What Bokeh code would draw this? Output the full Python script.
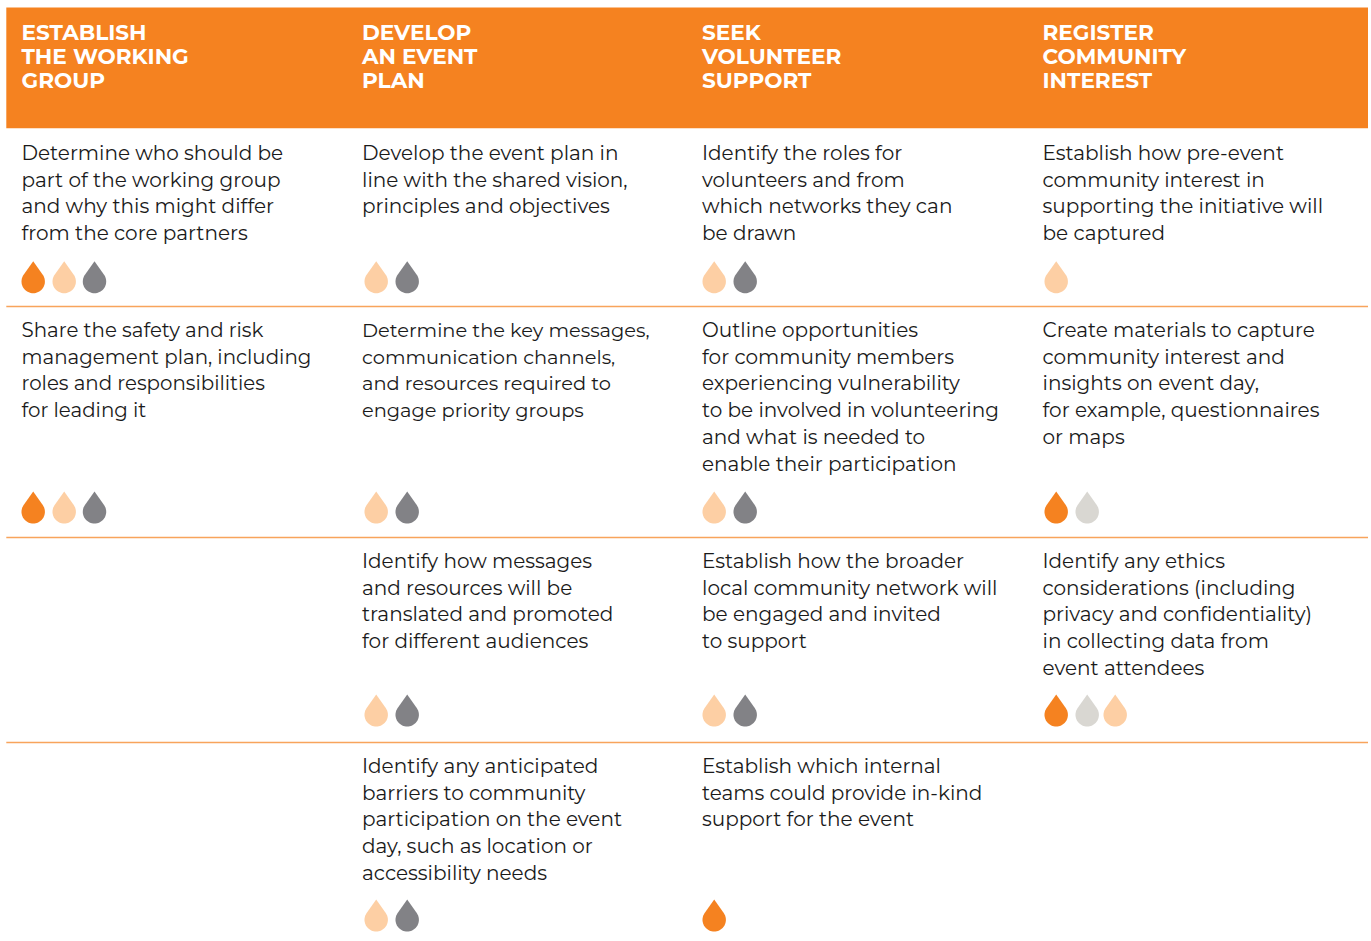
import math
from bokeh.plotting import figure
from bokeh.embed import file_html
from bokeh.resources import INLINE
from bokeh.core.properties import value
from bokeh.models import Range1d

W, H = 1371, 941
ORANGE = "#f58220"; PEACH = "#fdcfa4"; GREY = "#828286"; LIGHT = "#d9d7d2"; RULE = "#f8a45c"
FONT = "Montserrat, Inter"

headers = [["ESTABLISH", "THE WORKING", "GROUP"], ["DEVELOP", "AN EVENT", "PLAN"],
           ["SEEK", "VOLUNTEER", "SUPPORT"], ["REGISTER", "COMMUNITY", "INTEREST"]]
col_x = [21, 361.5, 701.5, 1042]
cells = [
 (0, 152.5, 20, ["Determine who should be", "part of the working group", "and why this might differ", "from the core partners"]),
 (1, 152.5, 20, ["Develop the event plan in", "line with the shared vision,", "principles and objectives"]),
 (2, 152.5, 20, ["Identify the roles for", "volunteers and from", "which networks they can", "be drawn"]),
 (3, 152.5, 20, ["Establish how pre-event", "community interest in", "supporting the initiative will", "be captured"]),
 (0, 329.5, 19.8, ["Share the safety and risk", "management plan, including", "roles and responsibilities", "for leading it"]),
 (1, 329.5, 19.4, ["Determine the key messages,", "communication channels,", "and resources required to", "engage priority groups"]),
 (2, 329.5, 20, ["Outline opportunities", "for community members", "experiencing vulnerability", "to be involved in volunteering", "and what is needed to", "enable their participation"]),
 (3, 329.5, 20, ["Create materials to capture", "community interest and", "insights on event day,", "for example, questionnaires", "or maps"]),
 (1, 560.5, 20, ["Identify how messages", "and resources will be", "translated and promoted", "for different audiences"]),
 (2, 560.5, 20, ["Establish how the broader", "local community network will", "be engaged and invited", "to support"]),
 (3, 560.5, 20, ["Identify any ethics", "considerations (including", "privacy and confidentiality)", "in collecting data from", "event attendees"]),
 (1, 765.5, 20, ["Identify any anticipated", "barriers to community", "participation on the event", "day, such as location or", "accessibility needs"]),
 (2, 765.5, 20, ["Establish which internal", "teams could provide in-kind", "support for the event"]),
]
drops = [
 (32.7, 276.7, ORANGE), (63.7, 276.7, PEACH), (94, 276.7, GREY),
 (375.7, 276.7, PEACH), (406.7, 276.7, GREY), (713.7, 276.7, PEACH), (744.7, 276.7, GREY), (1055.7, 276.7, PEACH),
 (32.7, 507, ORANGE), (63.7, 507, PEACH), (94, 507, GREY),
 (375.7, 507, PEACH), (406.7, 507, GREY), (713.7, 507, PEACH), (744.7, 507, GREY), (1055.7, 507, ORANGE), (1086.7, 507, LIGHT),
 (375.7, 710, PEACH), (406.7, 710, GREY), (713.7, 710, PEACH), (744.7, 710, GREY), (1055.7, 710, ORANGE), (1086.7, 710, LIGHT), (1114.7, 710, PEACH),
 (375.7, 915, PEACH), (406.7, 915, GREY), (713.7, 915, ORANGE),
]
rules = [306, 537, 742]

p = figure(width=W, height=H, output_backend="svg", toolbar_location=None,
           x_range=Range1d(0, W), y_range=Range1d(H, 0), min_border=0)
p.axis.visible = False; p.grid.visible = False; p.outline_line_color = None
p.background_fill_color = "white"; p.border_fill_color = "white"

p.quad(left=[5.8], right=[1367.5], top=[7], bottom=[127.7], fill_color=ORANGE, line_color=None)
p.segment(x0=[5.8]*3, x1=[1367.5]*3, y0=rules, y1=rules, line_color=RULE, line_width=1.3)

tx, ty, tt = [], [], []
for x, h in zip(col_x, headers):
    for i, s in enumerate(h):
        tx.append(x); ty.append(31.5 + 24*i); tt.append(s)
p.text(tx, ty, text=tt, text_font=value(FONT), text_font_size="21.6px", text_font_style="bold",
       text_color="white", text_baseline="middle")

for c, y0, size, lines in cells:
    p.text([col_x[c]]*len(lines), [y0 + 26.7*i for i in range(len(lines))], text=lines,
           text_font=value(FONT), text_font_size=f"{size}px",
           text_color="#1a1a1a", text_baseline="middle")

for cx, cy, col in drops:
    xs, ys = [], []
    r = 11.7; cyb = cy + 4.3; tip = cy - 16
    n = 40
    a0 = math.asin(r / (cyb - tip))
    for k in range(n+1):
        th = -a0 + (math.pi + 2*a0) * k / n
        xs.append(cx + r*math.cos(th)); ys.append(cyb + r*math.sin(th))
    xs.append(cx); ys.append(tip)
    p.patch(xs, ys, fill_color=col, line_color=None)

open("out.html", "w").write(file_html(p, INLINE))
